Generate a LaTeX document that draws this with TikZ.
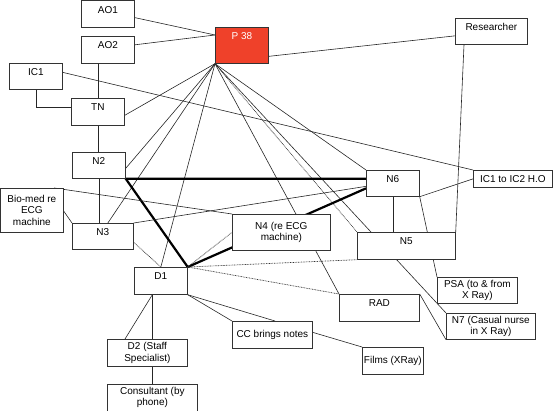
\documentclass[tikz,border=0pt]{standalone}
\usepackage{fontspec}
\setmainfont{Liberation Sans}
\usetikzlibrary{backgrounds}
\definecolor{pred}{RGB}{239,65,42}

\begin{document}
\begin{tikzpicture}[
  x=1pt, y=-1pt,
  font=\fontsize{10}{11.5}\selectfont,
  bx/.style={draw=black!80, fill=white, line width=0.7pt, anchor=north west,
    align=center, inner xsep=1pt, inner ysep=0pt},
  sz/.style 2 args={minimum width=#1, minimum height=#2},
  one/.style={text height=12.5pt, text depth=#1},
  one/.default=14.5pt,
  e/.style={line width=0.6pt, draw=black!85},
  hv/.style={line width=2.2pt, draw=black},
  dt/.style={line width=0.7pt, draw=black!80, dash pattern=on 0.8pt off 0.8pt},
]
\useasboundingbox (0,0) rectangle (553,411);

\node[bx, sz={53pt}{26.5pt}, one=14pt] (ao1) at (81,0.5) {AO1};
\node[bx, sz={53pt}{27pt}, one] (ao2) at (81,36) {AO2};
\node[bx, sz={53pt}{36pt}, one=23.5pt, fill=pred, text=white] (p38) at (215,27) {P 38};
\node[bx, sz={53pt}{26pt}, one=13.5pt] (ic1) at (9,63) {IC1};
\node[bx, sz={53pt}{27pt}, one] (tn) at (71,98) {TN};
\node[bx, sz={72pt}{26pt}, one=13.5pt] (res) at (455,18) {Researcher};
\node[bx, sz={53pt}{26pt}, one=13.5pt] (n2) at (72,152) {N2};
\node[bx, sz={62pt}{44pt}] (biomed) at (0.5,188) {Bio-med re\\ECG\\machine};
\node[bx, sz={61pt}{26pt}, one=13.5pt] (n3) at (72,223) {N3};
\node[bx, sz={98pt}{36pt}] (n4) at (232,214) {N4 (re ECG\\machine)};
\node[bx, sz={53pt}{26pt}, one=13.5pt] (n6) at (366,170) {N6};
\node[bx, sz={79pt}{17pt}, one=4.5pt] (ic12) at (473,170) {IC1 to IC2 H.O};
\node[bx, sz={98pt}{27pt}, one] (n5) at (357,232) {N5};
\node[bx, sz={53pt}{27pt}, one] (d1) at (134,267) {D1};
\node[bx, sz={80pt}{26pt}] (psa) at (437,277) {PSA (to \& from\\X Ray)};
\node[bx, sz={80pt}{27pt}, one] (rad) at (339,294) {RAD};
\node[bx, sz={89pt}{26pt}] (n7) at (446,313) {N7 (Casual nurse\\in X Ray)};
\node[bx, sz={80pt}{27pt}] (cc) at (232,321) {CC brings notes};
\node[bx, sz={61pt}{27pt}] (films) at (362,347) {Films (XRay)};
\node[bx, sz={80pt}{27pt}] (d2) at (107,339) {D2 (Staff\\Specialist)};
\node[bx, sz={90pt}{26.5pt}] (cons) at (107,384) {Consultant (by\\phone)};

\coordinate (d1b) at ([xshift=-8.5pt]d1.south);
\coordinate (d2b) at ([xshift=5pt]d2.south);

\begin{scope}[on background layer]
\draw[e] ([yshift=-3.5pt]ao1.east) -- ([yshift=-8pt]p38.north west);
\draw[e] ([yshift=5pt]ao2.east) -- ([yshift=-8pt]p38.north west);
\draw[e] ([yshift=-11pt]p38.east) -- ([yshift=-4.5pt]res.west);
\draw[e] (tn.north |- ao2.south) -- (tn.north);
\draw[e] (ic1.south) |- ([yshift=4.5pt]tn.west);
\draw[e] ([yshift=4pt]ic1.east) -- (ic12.north west);
\draw[e] (tn.south) -- (tn.south |- n2.north);
\draw[e] (n2.south) -- (n2.south |- n3.north);
% fan out of P 38
\draw[e] (p38.south west) -- ([yshift=-3.5pt]tn.east);
\draw[e] (p38.south west) -- ([yshift=-3pt]n2.east);
\draw[e] (p38.south west) -- ([xshift=5pt]n3.north);
\draw[e] (p38.south west) -- (d1.north);
\draw[e] (p38.south west) -- (rad.north west);
\draw[dt] (p38.south west) -- (n5.north west);
\draw[e] (p38.south west) -- (n7.north west);
\draw[e] (p38.south west) -- (n6.north west);
% heavy triangle
\draw[hv] (n2.south east -| n6.west) -- (n2.south east) -- (d1.north east) -- ([yshift=-5pt]n6.west);
\draw[e] (n3.north east) -- ([yshift=-3pt]n6.west);
\draw[e] ([xshift=-9pt]biomed.north east) -- (n4.north west);
\draw[e] (biomed.east) -- (n3.north west);
\draw[dt] ([yshift=-6pt]n3.east) -- (d1.north);
\draw[dt] (d1.north east) -- (n4.west);
\draw[dt] (d1.north east) -- (n5.south west);
\draw[dt] (d1.north east) -- (rad.north west);
\draw[e] (d1b) -- (d1b |- d2.north);
\draw[e] (d1b) -- ([xshift=18pt]d2.north west);
\draw[e] (d1.south east) -- (cc.north west);
\draw[e] (d1.south east) -- ([xshift=43pt]cc.north west);
\draw[e] (d2b) -- (d2b |- cons.north);
\draw[e] ([yshift=2.5pt]cc.east) -- (films.north west);
\draw[e] (rad.north east) -- (n7.south west);
\draw[e] ([xshift=9pt]res.south west) -- (n5.north east);
\draw[e] (n6.south) -- (n6.south |- n5.north);
\draw[e] (n6.south east) -- (psa.north west);
\draw[e] (n6.south east) -- (ic12.west);
\end{scope}
\end{tikzpicture}
\end{document}
